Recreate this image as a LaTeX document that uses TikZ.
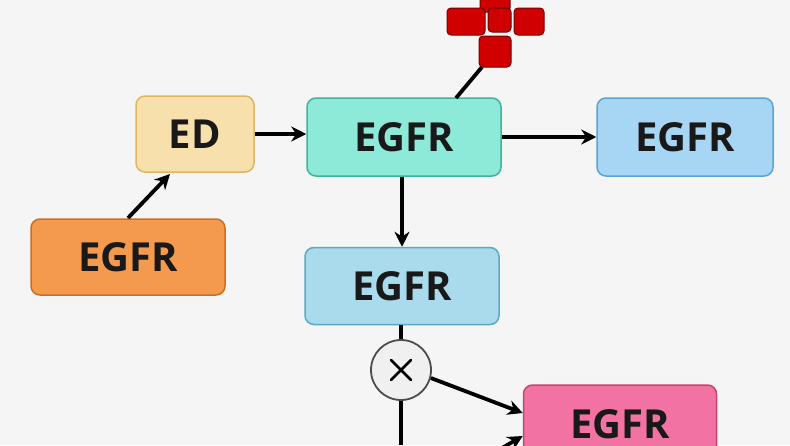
\documentclass[tikz,border=0pt]{standalone}
\usepackage{fontspec}
\setmainfont{Open Sans}
\usetikzlibrary{arrows.meta}
\begin{document}
\begin{tikzpicture}[x=1pt,y=-1pt,
  box/.style={draw, line width=1.5pt, rounded corners=9pt, inner sep=0pt, font=\fontsize{40}{40}\selectfont\bfseries, text=black!90},
  arr/.style={line width=3.8pt, -{Stealth[length=15pt,width=15pt]}},
  ln/.style={line width=3.8pt},
  sq/.style={fill=red!82!black, draw=red!45!black, line width=1pt, rounded corners=4pt}]
\fill[white!96!black] (0,0) rectangle (790,445);
\useasboundingbox (0,0) rectangle (790,445);
\definecolor{cED}{HTML}{F8E0AC}\definecolor{bED}{HTML}{DDB665}
\definecolor{cT}{HTML}{8EEAD8}\definecolor{bT}{HTML}{3FB39C}
\definecolor{cB}{HTML}{A6D6F3}\definecolor{bB}{HTML}{5BA4D4}
\definecolor{cO}{HTML}{F39A4E}\definecolor{bO}{HTML}{CC6E22}
\definecolor{cM}{HTML}{A9DBEC}\definecolor{bM}{HTML}{5FA7C4}
\definecolor{cP}{HTML}{F172A3}\definecolor{bP}{HTML}{C8446F}
\node[box, fill=cED, draw=bED, minimum width=118pt, minimum height=76pt] (ed) at (195,134) {ED};
\node[box, fill=cT, draw=bT, minimum width=194pt, minimum height=78pt] (t) at (404,137) {EGFR};
\node[box, fill=cB, draw=bB, minimum width=176pt, minimum height=78pt] (r) at (685,137) {EGFR};
\node[box, fill=cO, draw=bO, minimum width=194pt, minimum height=76pt] (o) at (128,257) {EGFR};
\node[box, fill=cM, draw=bM, minimum width=194pt, minimum height=77pt] (m) at (402,286) {EGFR};
\node[box, fill=cP, draw=bP, minimum width=193pt, minimum height=78pt] (p) at (620,424) {EGFR};
\node[circle, draw=black!70, line width=1.8pt, fill=black!6, minimum size=60pt, inner sep=0pt] (c) at (401,370) {};
\draw[line width=2.6pt, line cap=round] (c) ++(-10,-10) -- ++(20,20) (c) ++(10,-10) -- ++(-20,20);
% red cross
\draw[sq] (480,-14) rectangle (510,12);
\draw[sq] (447,8) rectangle (485,35);
\draw[sq] (488,8) rectangle (511,32);
\draw[sq] (514,8) rectangle (544,35);
\draw[sq] (479,36) rectangle (511,67);
\coordinate (rc) at (482,67);
\draw[ln] (rc) -- (456,98);
\draw[arr] (ed.east) -- (t.west |- ed.east);
\draw[arr] (128,218) -- (170,174);
\draw[arr] (t.east) -- (r.west);
\draw[arr] (t.south -| m.north) -- (m.north);
\draw[ln] (c.north |- m.south) -- (c.north);
\draw[arr] (c) ++(15:31) -- (p.west |- 0,413);
\draw[ln] (c.south) -- (401,445);
\coordinate (pb) at (490,455);
\draw[arr] (pb) -- (p.west |- 0,436);
\end{tikzpicture}
\end{document}
